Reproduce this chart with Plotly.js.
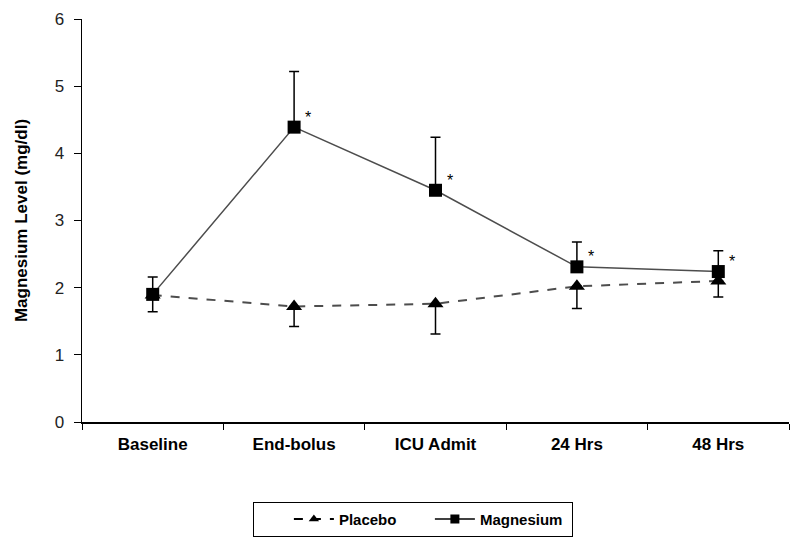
<!DOCTYPE html>
<html>
<head>
<meta charset="utf-8">
<script src="https://cdn.plot.ly/plotly-3.0.1.min.js"></script>
<style>html,body{margin:0;padding:0;background:#fff;}#chart{width:800px;height:552px;}</style>
</head>
<body>
<div id="chart"></div>
<script>
const categories = ["Baseline", "End-bolus", "ICU Admit", "24 Hrs", "48 Hrs"];
const placebo = [1.89, 1.72, 1.76, 2.02, 2.10];
const placeboErrMinus = [0.25, 0.30, 0.45, 0.33, 0.24];
const magnesium = [1.90, 4.39, 3.45, 2.31, 2.24];
const magnesiumErrPlus = [0.26, 0.83, 0.79, 0.37, 0.31];
const starLabels = ["", "*", "*", "*", "*"];
const zeros = [0, 0, 0, 0, 0];
const FONT = "Liberation Sans, Arial, sans-serif";

const traces = [
  {
    x: categories, y: placebo, name: "Placebo", type: "scatter", mode: "lines+markers",
    showlegend: false,
    line: {color: "#4d4d4d", width: 2, dash: "dash"},
    marker: {symbol: "triangle-up", size: 14, color: "#000"},
    error_y: {type: "data", symmetric: false, array: zeros, arrayminus: placeboErrMinus,
              color: "#000", thickness: 1.5, width: 5}
  },
  {
    x: categories, y: magnesium, name: "Magnesium", type: "scatter", mode: "lines+markers",
    showlegend: false,
    line: {color: "#4d4d4d", width: 1.5},
    marker: {symbol: "square", size: 13, color: "#000"},
    error_y: {type: "data", symmetric: false, array: magnesiumErrPlus, arrayminus: zeros,
              color: "#000", thickness: 1.5, width: 5}
  },
  // legend entries (no data points) with smaller symbols, as in the original legend
  {
    x: [null], y: [null], name: "Placebo", type: "scatter", mode: "lines+markers",
    line: {color: "#000", width: 2, dash: "dash"},
    marker: {symbol: "triangle-up", size: 9, color: "#000"}
  },
  {
    x: [null], y: [null], name: "Magnesium", type: "scatter", mode: "lines+markers",
    line: {color: "#000", width: 1.5},
    marker: {symbol: "square", size: 9, color: "#000"}
  }
];

const annotations = categories.map((c, i) => ({
  x: c, y: magnesium[i], xref: "x", yref: "y", text: starLabels[i],
  showarrow: false, xshift: 14, yshift: 10,
  font: {family: FONT, size: 16, color: "#000"}
})).filter(a => a.text !== "");

const layout = {
  width: 800, height: 552,
  margin: {l: 82, r: 11, t: 19, b: 130},
  paper_bgcolor: "#fff", plot_bgcolor: "#fff",
  font: {family: FONT, color: "#000"},
  showlegend: true,
  legend: {
    orientation: "h", x: 0.468, xanchor: "center", y: -0.198, yanchor: "top",
    bordercolor: "#000", borderwidth: 1, bgcolor: "#fff",
    font: {family: FONT, size: 15, color: "#000", weight: "bold"},
    title: {text: "\u00a0\u00a0\u00a0\u00a0\u00a0\u00a0", side: "left", font: {family: FONT, size: 15}},
    traceorder: "normal", itemwidth: 40, entrywidth: 86, entrywidthmode: "pixels"
  },
  xaxis: {
    type: "category", range: [-0.5, 4.5],
    showline: true, linecolor: "#000", linewidth: 1.5,
    ticks: "outside", tickson: "boundaries", ticklen: 6, tickcolor: "#000",
    ticklabelstandoff: 6,
    showgrid: false, zeroline: false,
    tickfont: {family: FONT, size: 17, color: "#000", weight: "bold"}
  },
  yaxis: {
    range: [0, 6], dtick: 1,
    showline: true, linecolor: "#000", linewidth: 1.5,
    ticks: "outside", ticklen: 7, tickcolor: "#000",
    ticklabelstandoff: 6,
    showgrid: false, zeroline: false,
    tickfont: {family: FONT, size: 17, color: "#222"},
    title: {text: "Magnesium Level (mg/dl)", standoff: 22,
            font: {family: FONT, size: 17, color: "#000", weight: "bold"}}
  },
  annotations: annotations
};

Plotly.newPlot("chart", traces, layout, {displayModeBar: false, staticPlot: true});
</script>
</body>
</html>
